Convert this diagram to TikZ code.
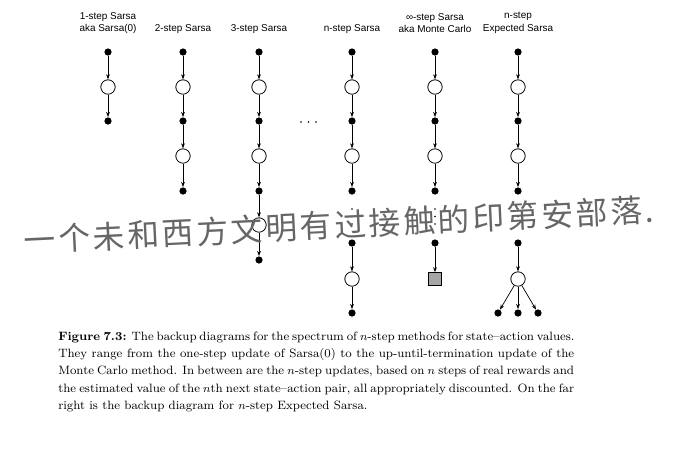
\documentclass[tikz,border=0pt]{standalone}
\usepackage{fontspec}
\newfontfamily\labelfont{Liberation Sans}
\newfontfamily\cjkfont[LetterSpace=9]{Noto Sans CJK SC}
\usetikzlibrary{arrows.meta}
\begin{document}
\begin{tikzpicture}[x=0.694pt,y=-0.694pt,
  sdot/.style={circle,fill=black,inner sep=0pt,minimum size=5pt},
  scirc/.style={circle,draw=black,fill=white,line width=0.55pt,inner sep=0pt,minimum size=10pt},
  sbox/.style={rectangle,draw=black,fill=black!35,line width=0.55pt,inner sep=0pt,minimum size=8.8pt},
  arr/.style={line width=0.5pt,-{Stealth[length=3.6pt,width=2.6pt]}},
  lbl/.style={font=\labelfont\fontsize{6.9pt}{8.7pt}\selectfont,align=center,inner sep=0pt},
  tiny/.style={circle,fill=black,inner sep=0pt,minimum size=1.1pt},
  capline/.style={anchor=base west,inner sep=0pt,font=\fontsize{8.4pt}{12pt}\selectfont},
  hand/.style={font=\cjkfont\fontsize{22pt}{26pt}\selectfont,text=black!60,inner sep=0pt,rotate=2.8}
]
\fill[white] (0,0) rectangle (680,467);
\useasboundingbox (0,0) rectangle (680,467);

% column headings
\node[lbl] (h1) at (108,23) {1-step Sarsa\\aka Sarsa(0)};
\node[lbl] (h2) at (183,29) {2-step Sarsa};
\node[lbl] (h3) at (259,29) {3-step Sarsa};
\node[lbl] (h4) at (352,29) {n-step Sarsa};
\node[lbl] (h5) at (435,23) {∞-step Sarsa\\aka Monte Carlo};
\node[lbl] (h6) at (518,23) {n-step\\Expected Sarsa};

% upper chains: dot, state-action, dot, ...
\foreach \c/\x/\last in {a/108/3, b/183/5, c/259/7, d/352/5, e/435/5, f/518/5}{
  \foreach \k/\y in {1/52,2/87,3/121,4/156,5/191,6/225,7/260}{
    \ifnum\k>\last\relax\else
      \ifodd\k
        \node[sdot] (\c\k) at (\x,\y) {};
      \else
        \node[scirc] (\c\k) at (\x,\y) {};
      \fi
    \fi
  }
}
\foreach \c/\last in {a/3, b/5, c/7, d/5, e/5, f/5}{
  \foreach \k [evaluate=\k as \j using int(\k+1)] in {1,...,6}{
    \ifnum\k<\last\relax
      \draw[arr] (\c\k) -- (\c\j);
    \fi
  }
}

% vertical ellipses
\foreach \c/\x in {d/352,e/435,f/518}{
  \foreach \y in {209,216.5,224}
    \node[tiny] at (\x,\y) {};
}
% horizontal ellipsis between the columns
\foreach \x in {301,308.5,316}
  \node[tiny] at (\x,122) {};

% lower parts
\node[sdot] (d8) at (352,243) {};
\node[scirc] (d9) at (352,279) {};
\node[sdot] (d10) at (352,313) {};
\draw[arr] (d8) -- (d9);
\draw[arr] (d9) -- (d10);

\node[sdot] (e8) at (435,243) {};
\node[sbox] (e9) at (435,279) {};
\draw[arr] (e8) -- (e9);

\node[sdot] (f8) at (518,243) {};
\node[scirc] (f9) at (518,279) {};
\node[sdot] (f10) at (498,313) {};
\node[sdot] (f11) at (518,313) {};
\node[sdot] (f12) at (538,313) {};
\draw[arr] (f8) -- (f9);
\draw[arr] (f9) -- (f10);
\draw[arr] (f9) -- (f11);
\draw[arr] (f9) -- (f12);

% caption
\node[capline] (cap1) at (58,340) {\makebox[358pt][s]{\textbf{Figure 7.3:} The backup diagrams for the spectrum of $n$-step methods for state--action values.}};
\node[capline] (cap2) at (58,357.3) {\makebox[358pt][s]{They range from the one-step update of Sarsa(0) to the up-until-termination update of the}};
\node[capline] (cap3) at (58,374.6) {\makebox[358pt][s]{Monte Carlo method. In between are the $n$-step updates, based on $n$ steps of real rewards and}};
\node[capline] (cap4) at (58,392) {\makebox[358pt][s]{the estimated value of the $n$th next state--action pair, all appropriately discounted. On the far}};
\node[capline] (cap5) at (58,409.3) {right is the backup diagram for $n$-step Expected Sarsa.};

% handwritten note across the figure
\node[hand] (note) at (339,225) {一个未和西方文明有过接触的印第安部落.};
\end{tikzpicture}
\end{document}
